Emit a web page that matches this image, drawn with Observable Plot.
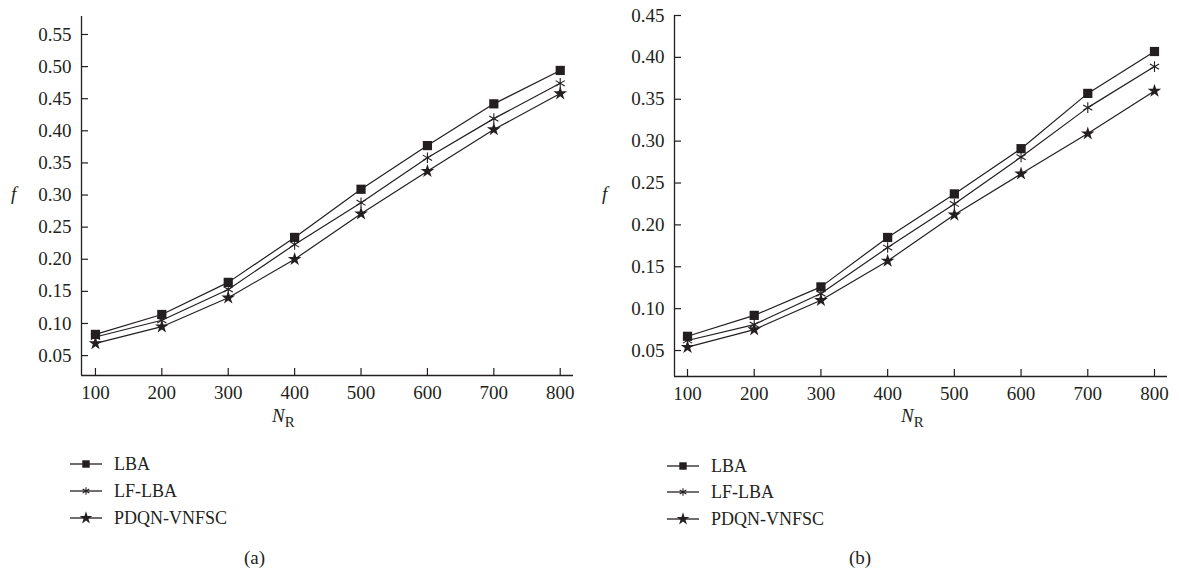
<!DOCTYPE html>
<html>
<head>
<meta charset="utf-8">
<script src="https://cdn.jsdelivr.net/npm/d3@7"></script>
<script src="https://cdn.jsdelivr.net/npm/@observablehq/plot@0.6"></script>
<style>
  html, body { margin: 0; padding: 0; background: #fff; }
  #root { position: relative; width: 1179px; height: 573px; overflow: hidden; font-family: "Liberation Serif", "DejaVu Serif", serif; color: #231f20; }
  .abs { position: absolute; white-space: nowrap; line-height: 1; }
  .lab { font-size: 19px; }
  .leg { font-size: 18px; display: flex; align-items: center; }
  .leg svg { margin-right: 12px; }
</style>
</head>
<body>
<div id="root"></div>
<script>
// ---- data ----
const nR = [100, 200, 300, 400, 500, 600, 700, 800];
const methods = ["LBA", "LF-LBA", "PDQN-VNFSC"];
const aLBA = [0.083, 0.114, 0.164, 0.234, 0.309, 0.377, 0.442, 0.494];
const aLF  = [0.079, 0.105, 0.153, 0.223, 0.288, 0.358, 0.419, 0.474];
const aPD  = [0.069, 0.095, 0.140, 0.200, 0.271, 0.337, 0.402, 0.458];
const bLBA = [0.067, 0.092, 0.126, 0.185, 0.237, 0.291, 0.357, 0.407];
const bLF  = [0.062, 0.081, 0.118, 0.173, 0.225, 0.281, 0.340, 0.389];
const bPD  = [0.054, 0.075, 0.110, 0.157, 0.212, 0.261, 0.309, 0.360];
const xTicks = [100, 200, 300, 400, 500, 600, 700, 800];
const yTicksA = [0.05, 0.10, 0.15, 0.20, 0.25, 0.30, 0.35, 0.40, 0.45, 0.50, 0.55];
const yTicksB = [0.05, 0.10, 0.15, 0.20, 0.25, 0.30, 0.35, 0.40, 0.45];
const symbols = ["square", "asterisk", "star"];

const ink = "#231f20";

function table(series) {
  const rows = [];
  series.forEach((vals, i) => vals.forEach((v, j) => rows.push({method: methods[i], n: nR[j], f: v})));
  return rows;
}

function panel(series, opts) {
  const data = table(series);
  const marks = [
    Plot.ruleX([opts.xd[0]], {stroke: ink, strokeWidth: 1.3}),
    Plot.ruleY([opts.yd[0]], {stroke: ink, strokeWidth: 1.3}),
    Plot.axisY(opts.yTicks, {tickSize: 0, tickPadding: 10, tickFormat: d3.format(".2f"), label: null}),
    Plot.axisY(opts.yTicks, {tickSize: 7, dx: 7, text: null, label: null, stroke: ink, strokeWidth: 1.2}),
    Plot.axisX(xTicks, {tickSize: 0, tickPadding: 10, label: null}),
    Plot.axisX(xTicks, {tickSize: 7, dy: -7, text: null, label: null, stroke: ink, strokeWidth: 1.2}),
    Plot.line(data, {x: "n", y: "f", z: "method", stroke: ink, strokeWidth: 1.2}),
    Plot.dot(data.filter(d => d.method === "LBA"), {x: "n", y: "f", symbol: "method", fill: ink, stroke: "none", r: 5.2}),
    Plot.dot(data.filter(d => d.method === "LF-LBA"), {x: "n", y: "f", symbol: "method", fill: "none", stroke: ink, strokeWidth: 1.1, r: 5}),
    Plot.dot(data.filter(d => d.method === "PDQN-VNFSC"), {x: "n", y: "f", symbol: "method", fill: ink, stroke: "none", r: 4.3})
  ];
  return Plot.plot({
    width: opts.width, height: 430,
    marginLeft: opts.ml, marginRight: opts.mr, marginTop: opts.mt, marginBottom: opts.mb,
    x: {domain: opts.xd},
    y: {domain: opts.yd},
    symbol: {domain: methods, range: symbols},
    style: {fontFamily: "'Liberation Serif', 'DejaVu Serif', serif", fontSize: "19px", color: ink, background: "transparent", overflow: "visible"},
    marks
  });
}

const root = document.getElementById("root");

function place(el, left, top) {
  el.style.position = "absolute";
  el.style.left = left + "px";
  el.style.top = top + "px";
  root.appendChild(el);
}

const chartA = panel([aLBA, aLF, aPD], {width: 590, ml: 81, mr: 17, mt: 16, mb: 55, xd: [79, 820], yd: [0.019, 0.578], yTicks: yTicksA});
place(chartA, 0, 0);
const chartB = panel([bLBA, bLF, bPD], {width: 589, ml: 84, mr: 12, mt: 15, mb: 54, xd: [80.5, 819.5], yd: [0.019, 0.45], yTicks: yTicksB});
place(chartB, 590, 0);

function text(html, cls, left, top) {
  const d = document.createElement("div");
  d.className = "abs " + cls;
  d.innerHTML = html;
  d.style.left = left + "px";
  d.style.top = top + "px";
  root.appendChild(d);
  return d;
}

// axis titles
text("<i>f</i>", "lab", 11, 184);
text("<i>f</i>", "lab", 602, 184);
const nrHtml = "<i>N</i><span style='font-size:15px;position:relative;top:5px;'>R</span>";
text(nrHtml, "lab", 272, 406);
text(nrHtml, "lab", 901, 406);

// legends
function legend(left, tops) {
  methods.forEach((m, i) => {
    const row = document.createElement("div");
    row.className = "abs leg";
    row.style.left = left + "px";
    row.style.top = (tops[i] - 9) + "px";
    const svg = d3.create("svg").attr("width", 32).attr("height", 18);
    svg.append("line").attr("x1", 0).attr("x2", 32).attr("y1", 9).attr("y2", 9).attr("stroke", ink).attr("stroke-width", 1.3);
    const sym = [d3.symbolSquare, d3.symbolAsterisk, d3.symbolStar][i];
    const size = [Math.PI * 4.2 * 4.2, Math.PI * 3.6 * 3.6, Math.PI * 4 * 4][i];
    const p = svg.append("path").attr("transform", "translate(16,9)").attr("d", d3.symbol(sym, size)());
    if (i === 1) p.attr("fill", "none").attr("stroke", ink).attr("stroke-width", 1.1);
    else p.attr("fill", ink);
    row.appendChild(svg.node());
    const t = document.createElement("span");
    t.textContent = m;
    row.appendChild(t);
    root.appendChild(row);
  });
}
legend(70, [464, 491, 518]);
legend(667, [466, 492, 519]);

// panel captions
text("(a)", "lab", 244, 548);
text("(b)", "lab", 849, 548);
</script>
</body>
</html>
